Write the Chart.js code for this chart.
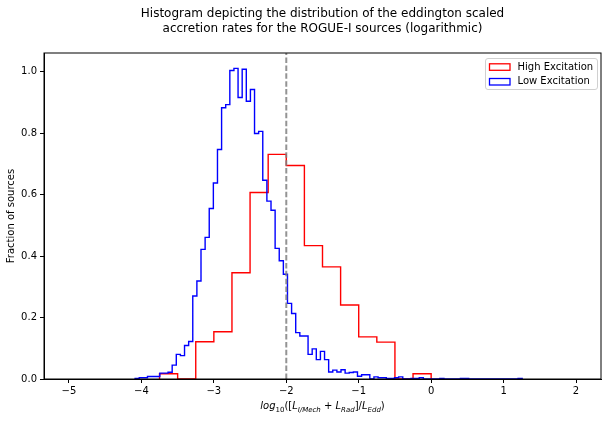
<!DOCTYPE html>
<html><head><meta charset="utf-8">
<script src="https://cdn.jsdelivr.net/npm/chart.js@4"></script>
<style>html,body{margin:0;padding:0;background:#fff;}canvas{display:block;}</style>
</head><body>
<canvas id="c" width="609" height="422"></canvas>
<script>
// ---- data ----
const titleLines = ['Histogram depicting the distribution of the eddington scaled',
                    'accretion rates for the ROGUE-I sources (logarithmic)'];
const seriesNames = ['High Excitation', 'Low Excitation'];
const yLabel = 'Fraction of sources';

const highEdges = [-3.75,-3.5,-3.25,-3.0,-2.75,-2.5,-2.25,-2.0,-1.75,-1.5,-1.25,-1.0,-0.75,-0.5,-0.25,0.0];
const highValues = [0.017,0,0.121,0.154,0.346,0.607,0.731,0.695,0.434,0.365,0.241,0.137,0.120,0,0.017];

const lowStart = -4.087;
const lowWidth = 0.05685;
const lowValues = [
 0.002,0.004,0.004,0.008,0.008,0.008,0.019,0.019,0.022,0.045,
 0.080,0.076,0.109,0.122,0.270,0.319,0.422,0.461,0.555,0.638,
 0.747,0.883,0.893,1.004,1.011,0.916,1.008,0.904,0.942,0.799,
 0.806,0.647,0.579,0.549,0.425,0.385,0.341,0.246,0.213,0.151,
 0.140,0.140,0.080,0.098,0.063,0.090,0.063,0.023,0.029,0.023,
 0.030,0.019,0.021,0.023,0.009,0.0136,0.0136,0,0.007,0.004,
 0.004,0.002,0.002,0.004,0.007,0,0,0.002,0.002,0.004,
 0,0,0,0,0.002,0,0,0,0,0.002,
 0.002,0,0,0,0,0,0,0,0,0,
 0,0,0,0.002];

const cutValue = -2;
const xTicks = [-5,-4,-3,-2,-1,0,1,2];
const yTicks = [0,0.2,0.4,0.6,0.8,1.0];
const xMin = -5.345, xMax = 2.345, yMax = 1.061;

// ---- build step outlines ----
function stepPoints(edges, vals){
  const pts = [{x:edges[0], y:0}];
  vals.forEach((v,i)=>pts.push({x:edges[i], y:v}));
  pts.push({x:edges[edges.length-1], y:vals[vals.length-1]});
  pts.push({x:edges[edges.length-1], y:0});
  return pts;
}
const lowEdges = [];
for (let i=0;i<=lowValues.length;i++) lowEdges.push(lowStart + i*lowWidth);

const FONT = 'DejaVu Sans';

const framePlugin = {
  id:'frame',
  afterDraw(chart){
    const ctx = chart.ctx, a = chart.chartArea;
    ctx.save();
    ctx.strokeStyle = '#000'; ctx.lineWidth = 1;
    ctx.strokeRect(a.left, a.top, a.right-a.left, a.bottom-a.top);
    // title
    ctx.fillStyle = '#000';
    ctx.font = '12px "' + FONT + '"';
    ctx.textAlign = 'center'; ctx.textBaseline = 'middle';
    const cx = (a.left + a.right)/2;
    ctx.fillText(titleLines[0], cx, 14);
    ctx.fillText(titleLines[1], cx, 28.5);
    // y label
    ctx.font = '10px "' + FONT + '"';
    ctx.save();
    ctx.translate(11.5, (a.top + a.bottom)/2);
    ctx.rotate(-Math.PI/2);
    ctx.fillText(yLabel, 0, 0);
    ctx.restore();
    // x label (math text)
    const parts = [
      {t:'log', it:true}, {t:'10', sub:true}, {t:'(['}, {t:'L', it:true}, {t:'I/Mech', it:true, sub:true},
      {t:' + '}, {t:'L', it:true}, {t:'Rad', it:true, sub:true}, {t:']/'}, {t:'L', it:true},
      {t:'Edd', it:true, sub:true}, {t:')'}];
    const fontOf = p => (p.it ? 'italic ' : '') + (p.sub ? '7px' : '10px') + ' "' + FONT + '"';
    let total = 0;
    parts.forEach(p=>{ ctx.font = fontOf(p); p.w = ctx.measureText(p.t).width; total += p.w; });
    let x = cx - total/2;
    ctx.textAlign = 'left'; ctx.textBaseline = 'alphabetic';
    parts.forEach(p=>{ ctx.font = fontOf(p); ctx.fillText(p.t, x, p.sub ? 411.5 : 409); x += p.w; });
    // legend
    const lx = 485.5, ly = 58.5, lw = 112, lh = 31, r = 2.5;
    ctx.beginPath();
    ctx.moveTo(lx+r, ly); ctx.lineTo(lx+lw-r, ly); ctx.arcTo(lx+lw, ly, lx+lw, ly+r, r);
    ctx.lineTo(lx+lw, ly+lh-r); ctx.arcTo(lx+lw, ly+lh, lx+lw-r, ly+lh, r);
    ctx.lineTo(lx+r, ly+lh); ctx.arcTo(lx, ly+lh, lx, ly+lh-r, r);
    ctx.lineTo(lx, ly+r); ctx.arcTo(lx, ly, lx+r, ly, r);
    ctx.closePath();
    ctx.fillStyle = 'rgba(255,255,255,0.8)'; ctx.fill();
    ctx.strokeStyle = '#d0d0d0'; ctx.lineWidth = 1; ctx.stroke();
    const cols = ['#ff0000', '#0000ff'];
    const rows = [67, 81.7];
    ctx.font = '10px "' + FONT + '"';
    ctx.textBaseline = 'middle'; ctx.textAlign = 'left';
    seriesNames.forEach((n,i)=>{
      ctx.strokeStyle = cols[i]; ctx.lineWidth = 1.3;
      ctx.strokeRect(489.5, rows[i]-3.2, 20.5, 6.5);
      ctx.fillStyle = '#000';
      ctx.fillText(n, 517.5, rows[i]);
    });
    ctx.restore();
  }
};

const tickFont = {family: FONT, size: 10};
new Chart(document.getElementById('c'), {
  type: 'line',
  data: {
    datasets: [
      {label: seriesNames[0], data: stepPoints(highEdges, highValues), stepped: 'before',
       borderColor: '#ff0000', borderWidth: 1.4, pointRadius: 0, fill: false, order: 2},
      {label: seriesNames[1], data: stepPoints(lowEdges, lowValues), stepped: 'before',
       borderColor: '#0000ff', borderWidth: 1.4, pointRadius: 0, fill: false, order: 1},
      {label: 'cut', data: [{x: cutValue, y: 0}, {x: cutValue, y: yMax}],
       borderColor: 'rgba(128,128,128,0.85)', borderWidth: 2, borderDash: [5.5, 2.4], pointRadius: 0, fill: false, order: 0}
    ]
  },
  options: {
    responsive: false, animation: false,
    layout: {padding: {top: 53, right: 8, left: 0, bottom: 0}},
    plugins: {legend: {display: false}, title: {display: false}, tooltip: {enabled: false}},
    scales: {
      x: {type: 'linear', min: xMin, max: xMax,
          afterFit: s => { s.height = 43; },
          afterBuildTicks: s => { s.ticks = xTicks.map(v => ({value: v})); },
          ticks: {font: tickFont, color: '#000', padding: 2, maxRotation: 0,
                  callback: v => String(v).replace('-', '\u2212')},
          grid: {display: true, drawOnChartArea: false, drawTicks: true, tickLength: 4, color: '#000'},
          border: {display: true, color: '#000'}},
      y: {type: 'linear', min: 0, max: yMax,
          afterFit: s => { s.width = 44; },
          afterBuildTicks: s => { s.ticks = yTicks.map(v => ({value: v})); },
          ticks: {font: tickFont, color: '#000', padding: 3, callback: v => v.toFixed(1)},
          grid: {display: true, drawOnChartArea: false, drawTicks: true, tickLength: 4, color: '#000'},
          border: {display: true, color: '#000'}}
    }
  },
  plugins: [framePlugin]
});
</script>
</body></html>
